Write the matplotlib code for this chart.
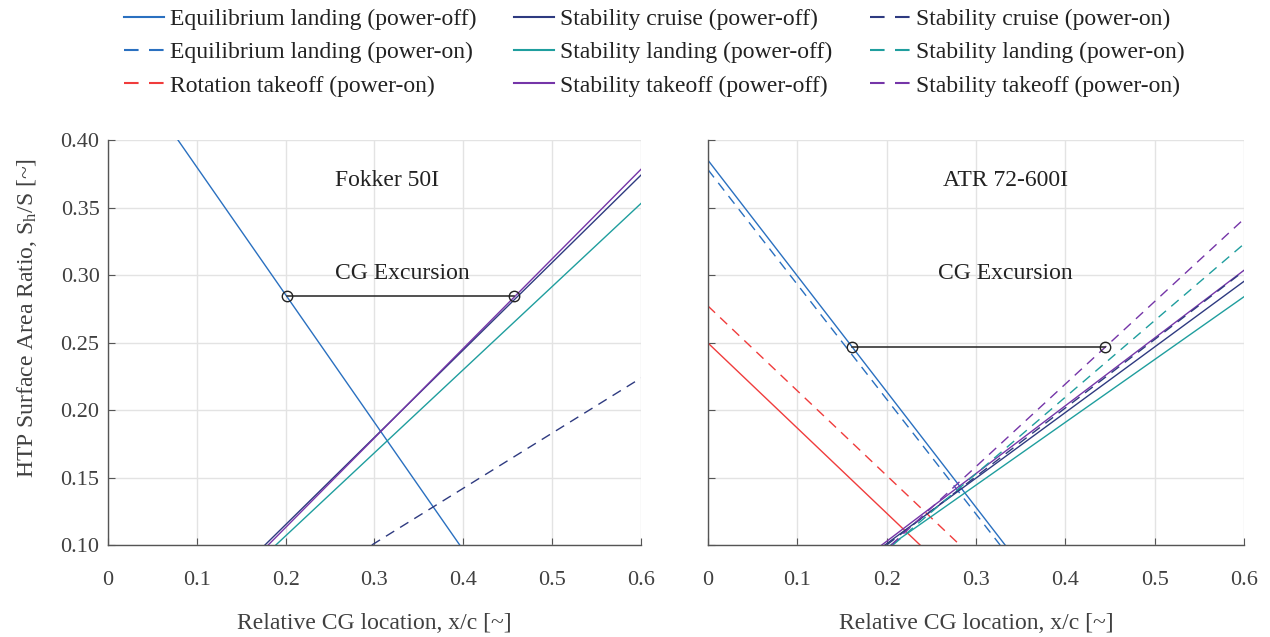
import numpy as np
import matplotlib.pyplot as plt
from matplotlib.lines import Line2D

plt.rcParams['font.family'] = ['Liberation Serif', 'DejaVu Serif']
plt.rcParams['mathtext.fontset'] = 'custom'
plt.rcParams['mathtext.rm'] = 'Liberation Serif'
plt.rcParams['mathtext.it'] = 'Liberation Serif'

# cores (estilo MATLAB)
C_BLUE = '#2a70c0'
C_RED = '#f03c3c'
C_NAVY = '#2e3a80'
C_TEAL = '#1f9e9e'
C_PURP = '#7535a8'

# --- Fokker 50I: extremos das retas (x em y=0.10 / y em x=0.6) ---
fk_eq_off = ([0.0788, 0.396], [0.40, 0.10])
fk_cruise_off = ([0.1767, 0.6], [0.10, 0.374])
fk_land_off = ([0.189, 0.6], [0.10, 0.353])
fk_take_off = ([0.1804, 0.6], [0.10, 0.3783])
fk_cruise_on = ([0.297, 0.6], [0.10, 0.2237])
fk_cg_x = [0.2015, 0.457]
fk_cg_y = [0.2844, 0.2844]

# --- ATR 72-600I ---
atr_eq_off = ([0.0, 0.3326], [0.385, 0.10])
atr_eq_on = ([0.0, 0.327], [0.378, 0.10])
atr_rot_off = ([0.0, 0.2374], [0.2496, 0.10])
atr_rot_on = ([0.0, 0.282], [0.277, 0.10])
atr_cruise_off = ([0.198, 0.6], [0.10, 0.2953])
atr_land_off = ([0.2046, 0.6], [0.10, 0.2839])
atr_take_off = ([0.1945, 0.6], [0.10, 0.3035])
atr_cruise_on = ([0.200, 0.6], [0.10, 0.303])
atr_land_on = ([0.207, 0.6], [0.10, 0.323])
atr_take_on = ([0.205, 0.6], [0.10, 0.3415])
atr_cg_x = [0.161, 0.4446]
atr_cg_y = [0.2466, 0.2466]

x_ticks = [0, 0.1, 0.2, 0.3, 0.4, 0.5, 0.6]
x_labels = ['0', '0.1', '0.2', '0.3', '0.4', '0.5', '0.6']
y_ticks = [0.10, 0.15, 0.20, 0.25, 0.30, 0.35, 0.40]
y_labels = ['0.10', '0.15', '0.20', '0.25', '0.30', '0.35', '0.40']

DASH = (0, (7, 5))
LW = 1.0
FS_TICK = 16
FS = 17

fig = plt.figure(figsize=(12.7, 6.37), dpi=100)
ax1 = fig.add_axes([0.0850, 0.1444, 0.4197, 0.6358])
ax2 = fig.add_axes([0.5575, 0.1444, 0.4220, 0.6358])


def estilo(ax, com_ylabels):
    ax.set_xlim(0, 0.6)
    ax.set_ylim(0.10, 0.40)
    ax.set_xticks(x_ticks)
    ax.set_xticklabels(x_labels)
    ax.set_yticks(y_ticks)
    if com_ylabels:
        ax.set_yticklabels(y_labels)
    else:
        ax.set_yticklabels([])
    ax.grid(True, color='#e3e3e3', lw=1.0)
    ax.set_axisbelow(True)
    for s in ['top', 'right']:
        ax.spines[s].set_visible(False)
    for s in ['left', 'bottom']:
        ax.spines[s].set_color('#555555')
        ax.spines[s].set_linewidth(1.0)
    ax.tick_params(axis='x', direction='in', length=5, color='#555555',
                   labelcolor='#404040', labelsize=FS_TICK, pad=19)
    ax.tick_params(axis='y', direction='in', length=5, color='#555555',
                   labelcolor='#404040', labelsize=FS_TICK, pad=6)
    ax.set_xlabel('Relative CG location, x/c [~]', fontsize=FS, color='#404040', labelpad=16)


def cg(ax, xs, ys):
    ax.plot(xs, ys, color='#333333', lw=1.2, zorder=5)
    ax.plot(xs, ys, 'o', mfc='none', mec='#222222', ms=7.5, mew=1.0, zorder=6)


# Fokker
ax1.plot(*fk_eq_off, color=C_BLUE, lw=LW)
ax1.plot(*fk_cruise_off, color=C_NAVY, lw=LW)
ax1.plot(*fk_land_off, color=C_TEAL, lw=LW)
ax1.plot(*fk_take_off, color=C_PURP, lw=LW)
ax1.plot(*fk_cruise_on, color=C_NAVY, lw=LW, ls=DASH)
cg(ax1, fk_cg_x, fk_cg_y)
ax1.text(0.314, 0.370, 'Fokker 50I', fontsize=FS, ha='center', va='center', color='#222222')
ax1.text(0.331, 0.301, 'CG Excursion', fontsize=FS, ha='center', va='center', color='#222222')
estilo(ax1, True)
ax1.set_ylabel('HTP Surface Area Ratio, S$_\\mathregular{h}$/S [~]', fontsize=FS,
               color='#404040')
ax1.yaxis.set_label_coords(-0.130, 0.56)

# ATR
ax2.plot(*atr_eq_off, color=C_BLUE, lw=LW)
ax2.plot(*atr_eq_on, color=C_BLUE, lw=LW, ls=DASH)
ax2.plot(*atr_rot_off, color=C_RED, lw=LW)
ax2.plot(*atr_rot_on, color=C_RED, lw=LW, ls=DASH)
ax2.plot(*atr_cruise_off, color=C_NAVY, lw=LW)
ax2.plot(*atr_land_off, color=C_TEAL, lw=LW)
ax2.plot(*atr_take_off, color=C_PURP, lw=LW)
ax2.plot(*atr_cruise_on, color=C_NAVY, lw=LW, ls=DASH)
ax2.plot(*atr_land_on, color=C_TEAL, lw=LW, ls=DASH)
ax2.plot(*atr_take_on, color=C_PURP, lw=LW, ls=DASH)
cg(ax2, atr_cg_x, atr_cg_y)
ax2.text(0.3326, 0.370, 'ATR 72-600I', fontsize=FS, ha='center', va='center', color='#222222')
ax2.text(0.333, 0.301, 'CG Excursion', fontsize=FS, ha='center', va='center', color='#222222')
estilo(ax2, False)

# legenda (preenchida por coluna)
leg_items = [
    ('Equilibrium landing (power-off)', C_BLUE, '-'),
    ('Equilibrium landing (power-on)', C_BLUE, DASH),
    ('Rotation takeoff (power-on)', C_RED, DASH),
    ('Stability cruise (power-off)', C_NAVY, '-'),
    ('Stability landing (power-off)', C_TEAL, '-'),
    ('Stability takeoff (power-off)', C_PURP, '-'),
    ('Stability cruise (power-on)', C_NAVY, DASH),
    ('Stability landing (power-on)', C_TEAL, DASH),
    ('Stability takeoff (power-on)', C_PURP, DASH),
]
handles = [Line2D([], [], color=c, lw=1.5, ls=ls) for _, c, ls in leg_items]
labels = [n for n, _, _ in leg_items]
fig.legend(handles, labels, loc='upper center', bbox_to_anchor=(0.515, 1.02), ncol=3,
           frameon=False, fontsize=FS, handlelength=1.7, handletextpad=0.25,
           columnspacing=1.6, labelspacing=0.5, labelcolor='#222222')

fig.savefig('out.png', dpi=100)
